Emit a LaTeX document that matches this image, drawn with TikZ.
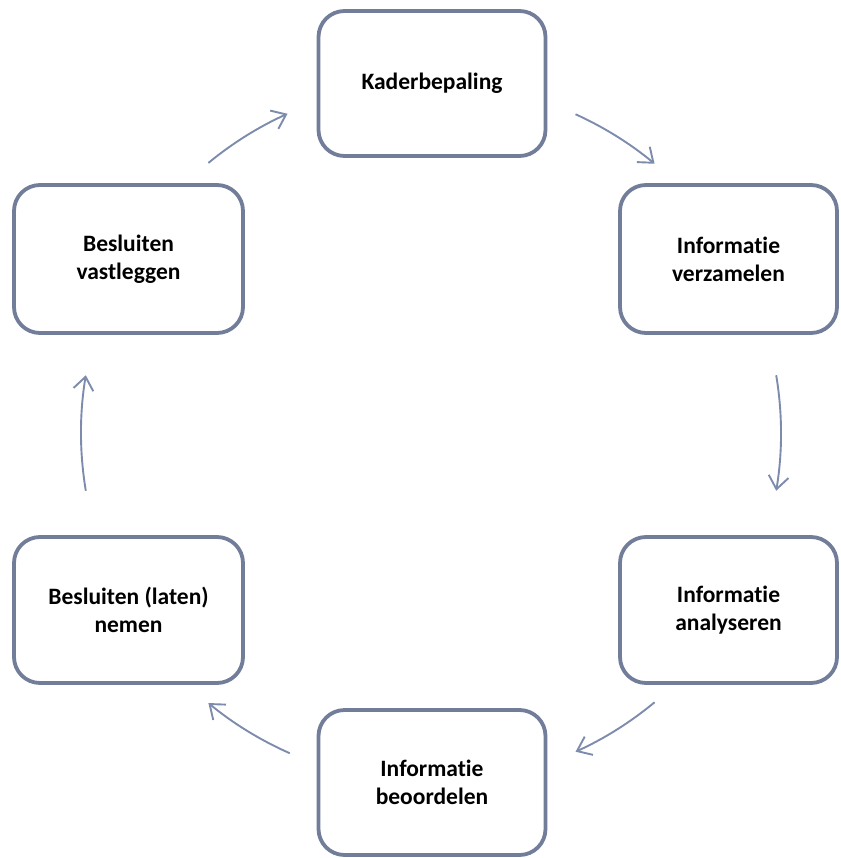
\documentclass[tikz,border=0pt]{standalone}
\usepackage{fontspec}
\setmainfont{Carlito}[Ligatures=NoCommon]
\usetikzlibrary{arrows.meta}
\definecolor{boxline}{RGB}{113,125,153}
\definecolor{arrline}{RGB}{125,139,172}
\tikzset{
  stage/.style={draw=boxline, line width=3.8pt, rounded corners=26pt, fill=white,
    inner sep=0pt, align=center, font=\fontsize{23.5}{28}\selectfont\bfseries},
  cyc/.style={draw=arrline, line width=1.9pt, -{Straight Barb[length=13pt,width=20pt]}},
  x=1pt, y=1pt
}
\begin{document}
\begin{tikzpicture}
\useasboundingbox (0,0) rectangle (840,-858);
\node[stage, minimum width=227pt, minimum height=145pt] (kader) at (432,-83.5) {Kaderbepaling};
\node[stage, minimum width=217pt, minimum height=148pt] (verz) at (728.5,-259) {Informatie\\verzamelen};
\node[stage, minimum width=217pt, minimum height=146pt] (anal) at (728.5,-610) {Informatie\\analyseren};
\node[stage, minimum width=227pt, minimum height=145pt] (beoord) at (432,-782.5) {Informatie\\beoordelen};
\node[stage, minimum width=229pt, minimum height=146pt] (nemen) at (128.5,-610) {Besluiten (laten)\\nemen};
\node[stage, minimum width=229pt, minimum height=148pt] (vast) at (128.5,-259) {Besluiten\\vastleggen};
\coordinate (ctr) at (431,-433);
\path (ctr) ++(129.5:350) coordinate (s1);
\path (ctr) ++(65.6:350) coordinate (s2);
\path (ctr) ++(9.5:350) coordinate (s3);
\path (ctr) ++(-50.3:350) coordinate (s4);
\path (ctr) ++(-113.8:350) coordinate (s5);
\path (ctr) ++(189.5:350) coordinate (s6);
\draw[cyc] (s1) arc[start angle=129.5, end angle=114.2, radius=350];
\draw[cyc] (s2) arc[start angle=65.6, end angle=50.3, radius=350];
\draw[cyc] (s3) arc[start angle=9.5, end angle=-9.5, radius=350];
\draw[cyc] (s4) arc[start angle=-50.3, end angle=-65.6, radius=350];
\draw[cyc] (s5) arc[start angle=-113.8, end angle=-129.5, radius=350];
\draw[cyc] (s6) arc[start angle=189.5, end angle=170.5, radius=350];
\end{tikzpicture}
\end{document}
